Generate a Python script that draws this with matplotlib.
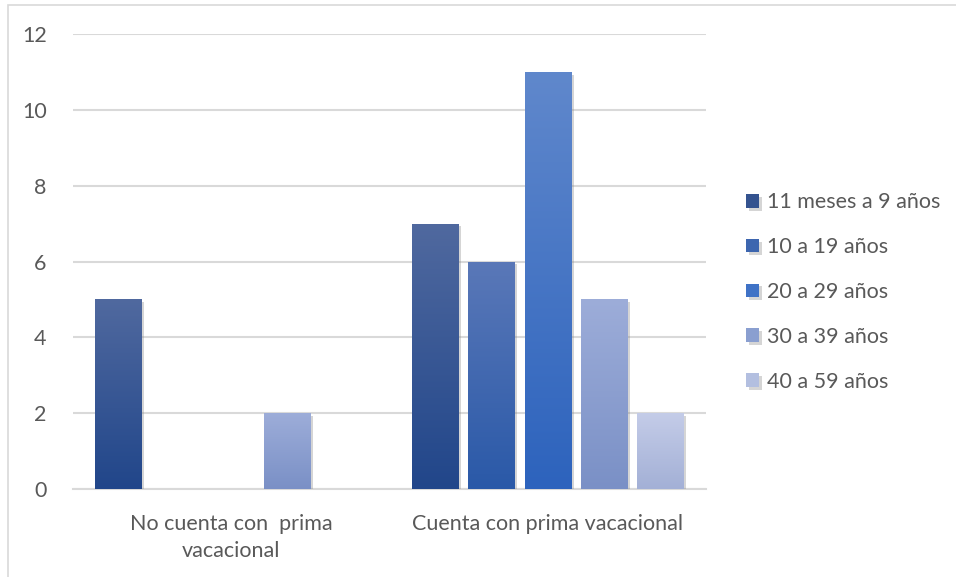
import numpy as np
import matplotlib.pyplot as plt
from matplotlib.patches import Rectangle
from matplotlib.colors import LinearSegmentedColormap
import matplotlib.patheffects as pe

categories = ["No cuenta con  prima\nvacacional", "Cuenta con prima vacacional"]
series = ["11 meses a 9 años", "10 a 19 años", "20 a 29 años", "30 a 39 años", "40 a 59 años"]
values = [
    [5, 7],
    [0, 6],
    [0, 11],
    [2, 5],
    [0, 2],
]
top_colors = ["#50699f", "#5a78b8", "#6088cc", "#9dadd9", "#c4cce8"]
bot_colors = ["#21468a", "#2a59a8", "#2d63bd", "#7a90c6", "#a3b0d6"]
mid_colors = ["#34538f", "#3d66af", "#3f72c6", "#8a9fd0", "#b3bfe0"]

plt.rcParams['font.family'] = ['Lato', 'DejaVu Sans']
FS = 15.5
W, H = 956, 577
fig = plt.figure(figsize=(W / 100, H / 100), dpi=100)
ax = fig.add_axes([73 / W, 1 - 489 / H, (706 - 73) / W, (489 - 34) / H])

n = len(series)
step = 0.178
width = 0.146
x = np.arange(len(categories))
for i in range(n):
    offs = (i - (n - 1) / 2) * step
    bars = ax.bar(x + offs, values[i], width, color=mid_colors[i], label=series[i],
                  zorder=3, linewidth=0,
                  path_effects=[pe.SimplePatchShadow(offset=(2, -2), shadow_rgbFace='#888888', alpha=0.35), pe.Normal()])
    cmap = LinearSegmentedColormap.from_list(f"g{i}", [bot_colors[i], top_colors[i]])
    for b, v in zip(bars, values[i]):
        if v <= 0:
            continue
        x0 = b.get_x()
        grad = np.linspace(0, 1, 256).reshape(-1, 1)
        im = ax.imshow(grad, extent=[x0, x0 + width, 0, v], origin='lower', aspect='auto',
                       cmap=cmap, zorder=4)
        im.set_clip_path(b)

ax.set_xlim(-0.5, 1.5)
ax.set_ylim(0, 12)
ax.set_yticks(np.arange(0, 13, 2))
ax.set_xticks(x)
ax.set_xticklabels(categories)
ax.yaxis.grid(True, color='#d9d9d9', linewidth=1.5, zorder=0)
ax.set_axisbelow(True)
for s in ['top', 'right', 'left']:
    ax.spines[s].set_visible(False)
ax.spines['bottom'].set_color('#d9d9d9')
ax.spines['bottom'].set_linewidth(1.5)
ax.tick_params(axis='both', length=0, colors='#595959', labelsize=FS)
ax.tick_params(axis='y', pad=19)
ax.tick_params(axis='x', pad=18)
for t in ax.get_xticklabels():
    t.set_linespacing(1.45)

leg = ax.legend(loc='center left', bbox_to_anchor=((727 - 73) / (706 - 73), (489 - 292) / (489 - 34)),
                frameon=False, fontsize=FS, labelcolor='#595959', handlelength=0.6,
                handleheight=0.6, handletextpad=0.35, labelspacing=1.15)

fig.patches.append(Rectangle((8 / W, -0.01), 1.0, 1 - 5 / H + 0.01, transform=fig.transFigure,
                             fill=False, edgecolor='#d9d9d9', linewidth=1.2))

fig.savefig('out.png', dpi=100)
